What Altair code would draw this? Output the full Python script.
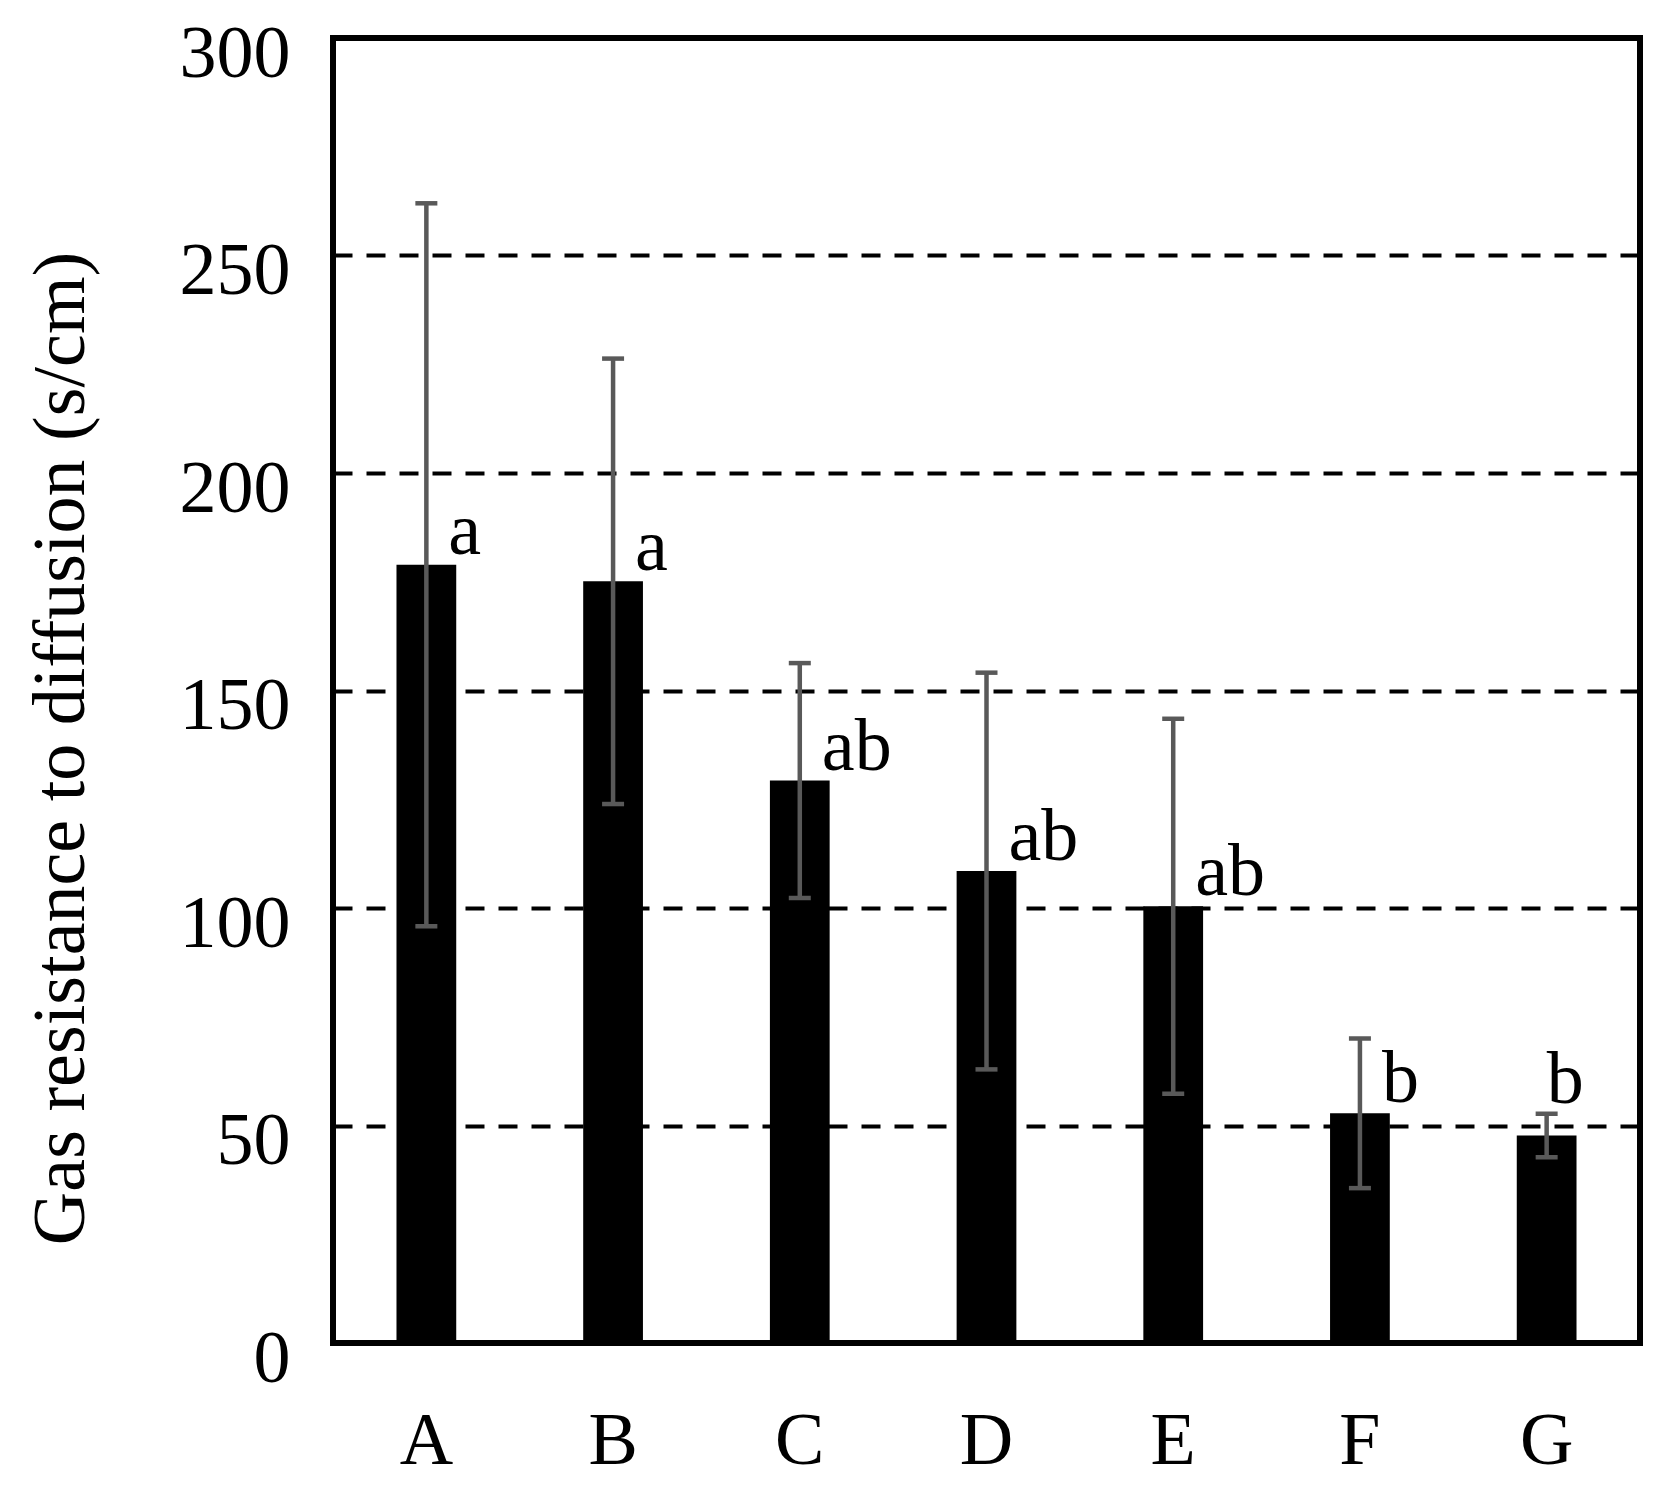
import altair as alt
import pandas as pd

categories = ["A", "B", "C", "D", "E", "F", "G"]
means = [178.9, 175.1, 129.3, 108.5, 100.4, 52.8, 47.7]
errors = [83.1, 51.2, 27.0, 45.6, 43.1, 17.2, 5.0]
letters = ["a", "a", "ab", "ab", "ab", "b", "b"]
y_ticks = [0, 50, 100, 150, 200, 250, 300]

df = pd.DataFrame({"cat": categories, "mean": means, "err": errors, "letter": letters})

FONT = "Liberation Serif"
FS = 74
ERR_COLOR = "#595959"

yscale = alt.Scale(domain=[0, 300], nice=False, zero=True)
xenc = alt.X(
    "cat:N",
    sort=categories,
    scale=alt.Scale(paddingInner=0.68, paddingOuter=0.34),
    axis=alt.Axis(
        title=None, labelAngle=0, labelFont=FONT, labelFontSize=FS, labelColor="black",
        ticks=False, domain=False, labelPadding=62, grid=False,
    ),
)

base = alt.Chart(df).transform_calculate(
    hi="datum.mean + datum.err", lo="datum.mean - datum.err"
)

bars = base.mark_bar(color="black").encode(
    x=xenc,
    y=alt.Y(
        "mean:Q",
        scale=yscale,
        axis=alt.Axis(
            values=y_ticks, format="d",
            title="Gas resistance to diffusion (s/cm)",
            titleFont=FONT, titleFontSize=FS, titleFontWeight="normal", titleColor="black",
            titleAngle=270, titleX=-250, titleY=710, titleAlign="center", titleBaseline="alphabetic",
            labelFont=FONT, labelFontSize=FS, labelColor="black", labelPadding=43, labelOffset=16,
            ticks=False, domain=False,
            grid=True, gridColor="black", gridDash=[19, 14], gridWidth=4, gridOpacity=1,
        ),
    ),
)

rules = base.mark_rule(color=ERR_COLOR, strokeWidth=4.5).encode(
    x=alt.X("cat:N", sort=categories),
    y=alt.Y("lo:Q", scale=yscale),
    y2="hi:Q",
)

cap_hi = base.mark_tick(color=ERR_COLOR, size=22, thickness=4.5, opacity=1).encode(
    x=alt.X("cat:N", sort=categories),
    y=alt.Y("hi:Q", scale=yscale),
)
cap_lo = base.mark_tick(color=ERR_COLOR, size=22, thickness=4.5, opacity=1).encode(
    x=alt.X("cat:N", sort=categories),
    y=alt.Y("lo:Q", scale=yscale),
)

labels_main = base.transform_filter("datum.err >= 10").mark_text(
    align="left", baseline="alphabetic", dx=22, dy=-11, font=FONT, fontSize=FS, color="black"
).encode(
    x=alt.X("cat:N", sort=categories),
    y=alt.Y("mean:Q", scale=yscale),
    text="letter:N",
)

labels_small = base.transform_filter("datum.err < 10").mark_text(
    align="left", baseline="alphabetic", dx=0, dy=-11, font=FONT, fontSize=FS, color="black"
).encode(
    x=alt.X("cat:N", sort=categories),
    y=alt.Y("hi:Q", scale=yscale),
    text="letter:N",
)

chart = alt.layer(bars, rules, cap_hi, cap_lo, labels_main, labels_small).properties(
    width=1307,
    height=1305,
    autosize=alt.AutoSizeParams(type="none"),
    padding={"left": 325, "top": 30, "right": 22, "bottom": 150},
    background="white",
).configure_view(stroke="black", strokeWidth=6)

chart.save("out.html", embed_options={"renderer": "svg", "actions": False})
